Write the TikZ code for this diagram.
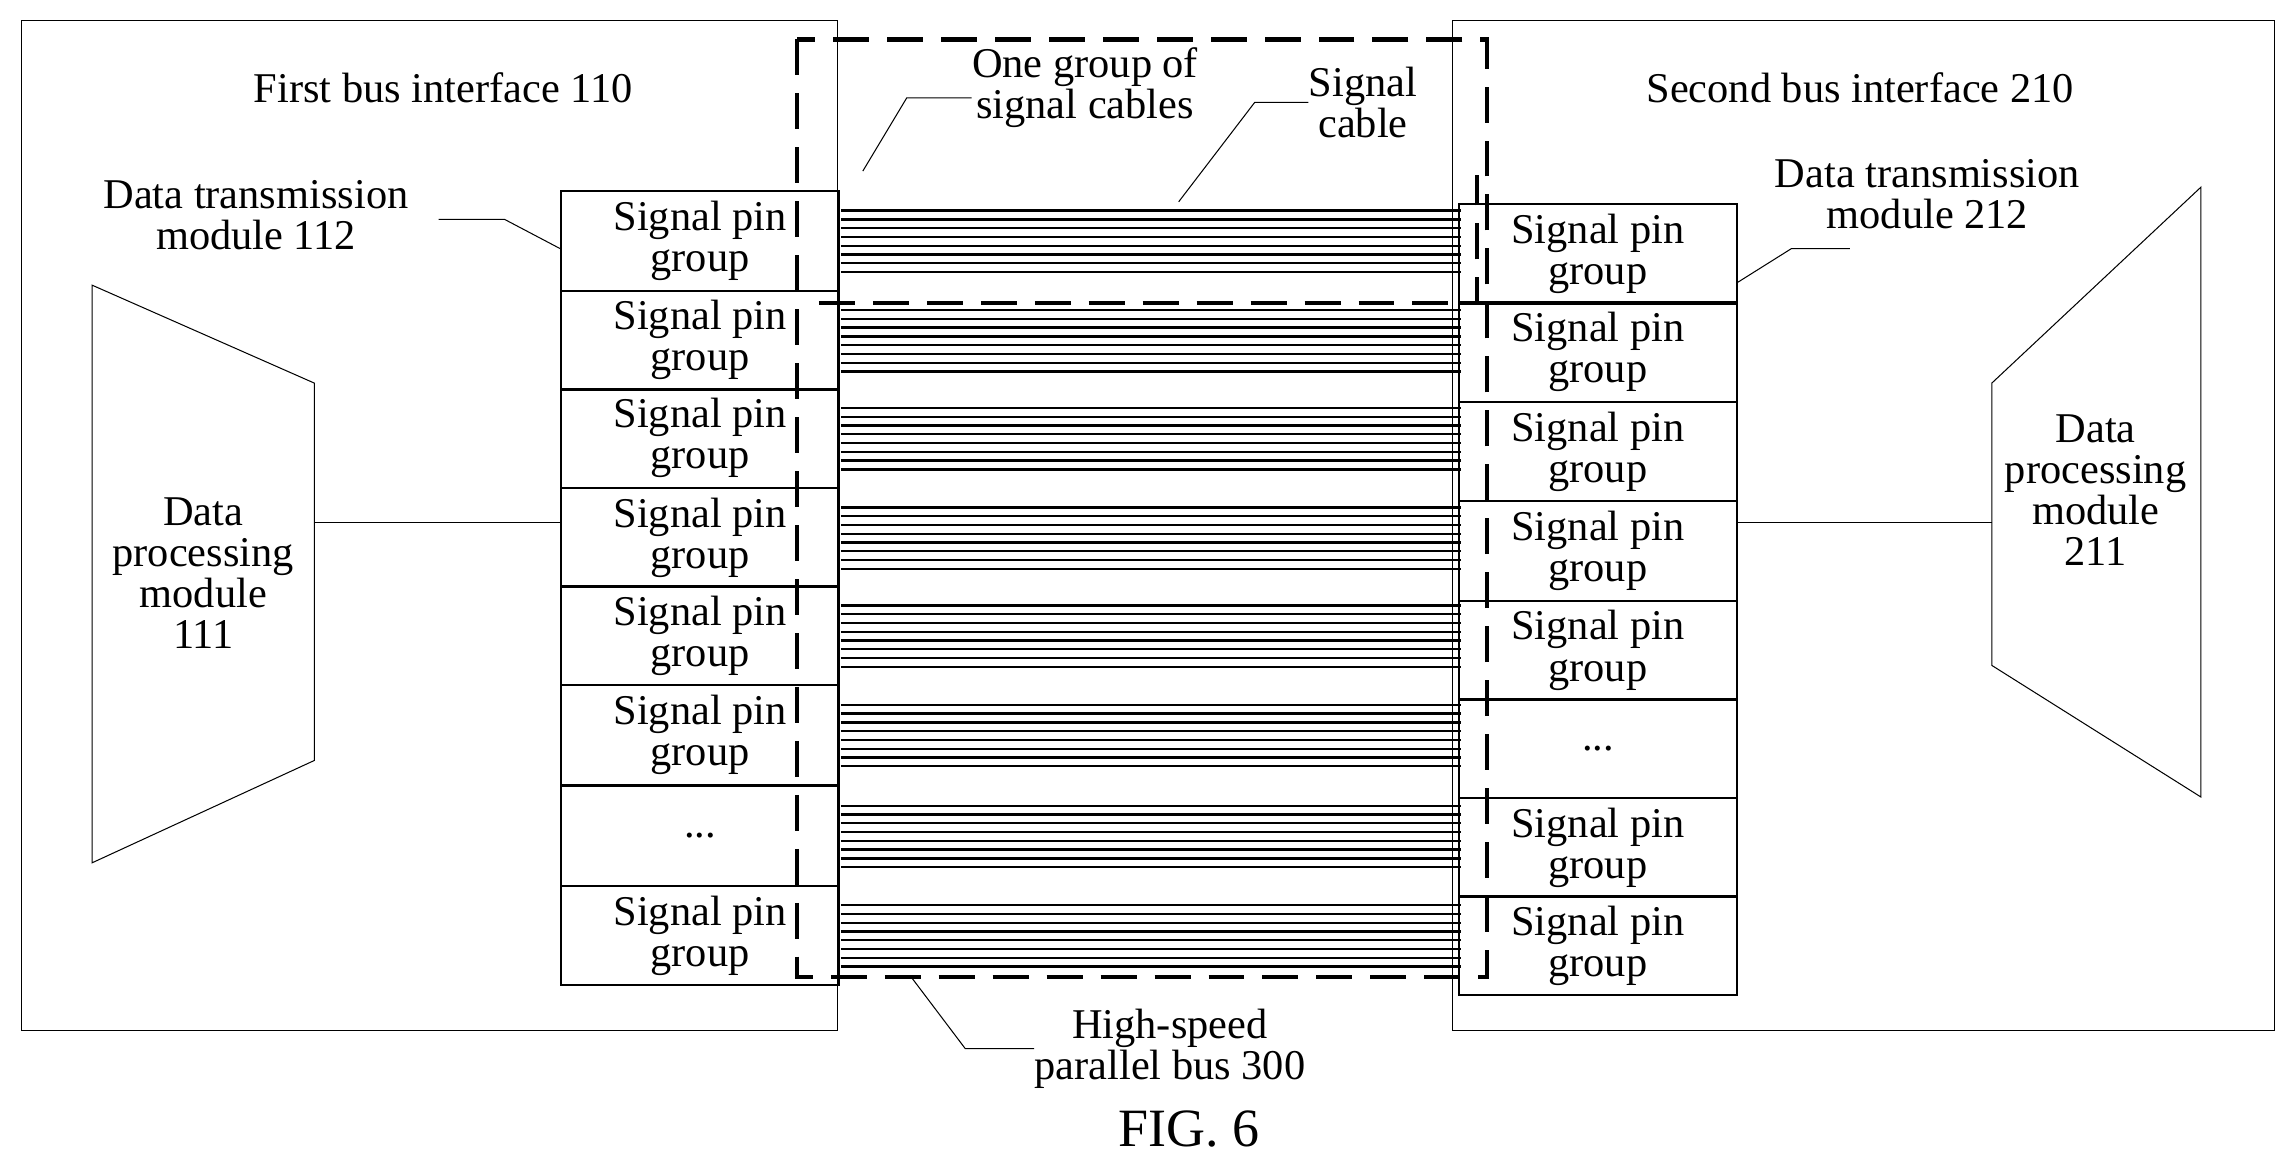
\documentclass[tikz,border=0pt]{standalone}
\usepackage{fontspec}
\setmainfont{Liberation Serif}
\begin{document}
\begin{tikzpicture}[x=0.02cm,y=-0.02cm,
  lbl/.style={font=\fontsize{16.5}{16}\selectfont,align=center,inner sep=0pt},
  pin/.style={draw,thick,minimum width=3.8cm,minimum height=1.36cm,lbl,anchor=north west},
  dsh/.style={line width=1.6pt,dash pattern=on 14pt off 7pt},
  ld/.style={thin}]
\useasboundingbox (0,0) rectangle (1568,797);
\draw[thin] (15,14) rectangle (573,705);
\draw[thin] (993,14) rectangle (1555,705);
\node[lbl] (t1) at (303,60) {First bus interface 110};
\node[lbl] (t2) at (1272,60) {Second bus interface 210};
\draw[thin] (63,195) -- (215,262) -- (215,520) -- (63,590) -- cycle;
\node[lbl] (dp1) at (139,392) {Data\\processing\\module\\111};
\draw[thin] (1362,262) -- (1505,128) -- (1505,545) -- (1362,455) -- cycle;
\node[lbl] (dp2) at (1433,335) {Data\\processing\\module\\211};
\foreach \y in {130,198,265,333,400,468,537,605}{
  \foreach \k in {0,...,7}{
    \draw[line width=0.9pt] (575,\y+14+6*\k) -- (999,\y+14+6*\k);
  }}
\foreach \y [count=\i] in {130,198,265,333,400,468,537,605}{
  \ifnum\i=7
   \node[pin] (L\i) at (383,\y) {...};
  \else
   \node[pin] (L\i) at (383,\y) {Signal pin\\group};
  \fi}
\foreach \y [count=\i] in {139,206,274,342,410,477,545,612}{
  \ifnum\i=6
   \node[pin] (R\i) at (997,\y) {...};
  \else
   \node[pin] (R\i) at (997,\y) {Signal pin\\group};
  \fi}
\coordinate (c1) at (215,357);
\draw[thin] (c1) -- (L4.west |- c1);
\coordinate (c2) at (1362,357);
\draw[thin] (R4.east |- c2) -- (c2);
\draw[dsh] (545,27) rectangle (1017,668);
\draw[dsh] (560,207) -- (1010,207) -- (1010,120);
\node[lbl] (m112) at (175,147) {Data transmission\\module 112};
\coordinate (a1) at (300,150); \coordinate (a2) at (345,150);
\draw[ld] (a1) -- (a2) -- (L1.west |- 0,170);
\node[lbl] (m212) at (1318,133) {Data transmission\\module 212};
\coordinate (b1) at (1225,170); \coordinate (b2) at (1265,170);
\draw[ld] (R1.east |- 0,193) -- (b1) -- (b2);
\node[lbl] (grp) at (742,60) {One group of\\signal cables};
\coordinate (g0) at (590,117); \coordinate (g1) at (620,67);
\draw[ld] (g0) -- (g1) -- (grp.west |- g1);
\node[lbl] (sc) at (932,70) {Signal\\cable};
\coordinate (s0) at (806,138); \coordinate (s1) at (858,70);
\draw[ld] (s0) -- (s1) -- (sc.west |- s1);
\node[lbl] (bus) at (800,717) {High-speed\\parallel bus 300};
\coordinate (h0) at (623,668); \coordinate (h1) at (660,717);
\draw[ld] (h0) -- (h1) -- (bus.west |- h1);
\node[font=\fontsize{21}{22}\selectfont,inner sep=0pt] (fig) at (813,772) {FIG. 6};
\end{tikzpicture}
\end{document}
